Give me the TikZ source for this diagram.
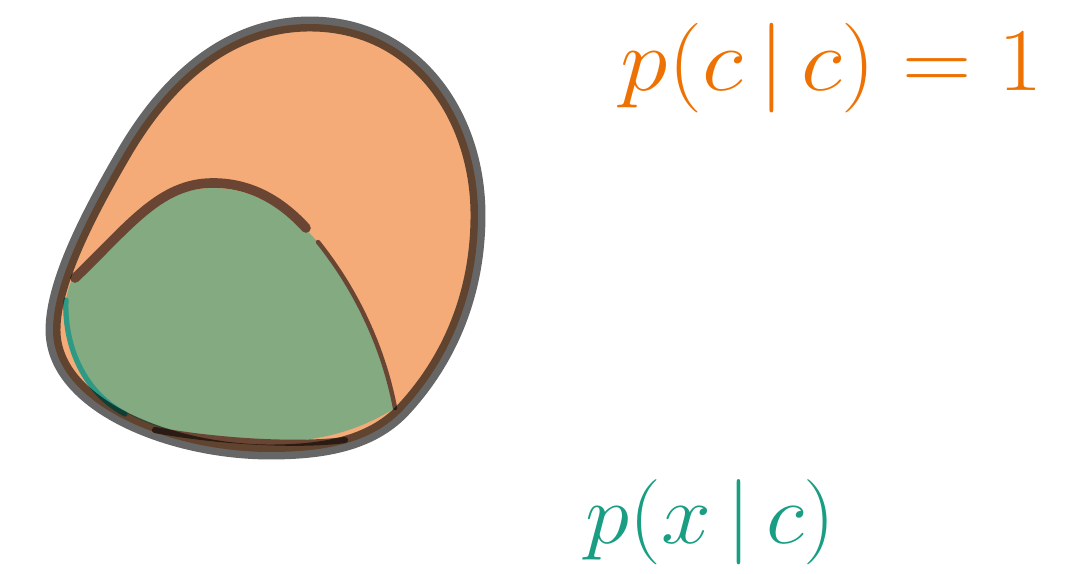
\documentclass[tikz,border=0pt]{standalone}
\usepackage{amsmath,amssymb}
\usepackage{xcolor}
\usepackage{tikz}
\definecolor{peach}{HTML}{F4AB78}
\definecolor{sage}{HTML}{84AA82}
\definecolor{tealedge}{HTML}{2E9A85}
\definecolor{umber}{HTML}{6B4533}
\definecolor{lblorange}{HTML}{EE7203}
\definecolor{lblteal}{HTML}{1A9E83}
\tikzset{
  blob/.style={line join=round, line cap=round},
  outline/.style={blob, draw=black, draw opacity=0.6, line width=8.5pt},
  rim/.style={blob, draw=umber, line width=5.5pt},
  lbl/.style={font=\Huge, inner sep=0pt, transform shape}
}
\newcommand{\outerpath}{(310,24) .. controls (415,24) and (478,115) .. (478,215)
  .. controls (478,300) and (445,365) .. (403,410)
  .. controls (370,445) and (320,452) .. (270,452)
  .. controls (170,452) and (53,405) .. (53,330)
  .. controls (53,285) and (85,220) .. (123,155)
  .. controls (175,65) and (240,24) .. (310,24) -- cycle}

\begin{document}
\begin{tikzpicture}[x=0.02cm, y=-0.02cm]
\useasboundingbox (0,0) rectangle (1066,574);
% outer region
\fill[peach] \outerpath;
% inner region
\fill[sage] (72,280) .. controls (130,225) and (160,188) .. (213,188)
  .. controls (260,188) and (300,220) .. (320,245)
  .. controls (360,295) and (385,350) .. (395,408)
  .. controls (360,430) and (320,442) .. (270,442)
  .. controls (180,442) and (110,420) .. (80,370)
  .. controls (62,340) and (62,300) .. (72,280) -- cycle;
\draw[blob, tealedge, line width=3pt] (66,300) .. controls (64,340) and (80,390) .. (125,414);
\draw[rim] (75,278) .. controls (130,225) and (160,183) .. (213,183)
  .. controls (255,183) and (285,205) .. (306,228);
\draw[rim, line width=2.5pt] (318,242) .. controls (358,292) and (384,350) .. (395,408);
\draw[rim, line width=3.5pt] (155,430) .. controls (220,442) and (300,446) .. (345,440);
% outline
\draw[outline] \outerpath;
\node[lbl, lblorange, anchor=base west, xscale=2.2, yscale=2.05] (pcc) at (620,91) {$p(c\,|\,c) = 1$};
\node[lbl, lblteal, anchor=base west, xscale=2.05, yscale=1.95] (pxc) at (585,543) {$p(x\,|\,c)$};
\end{tikzpicture}
\end{document}
